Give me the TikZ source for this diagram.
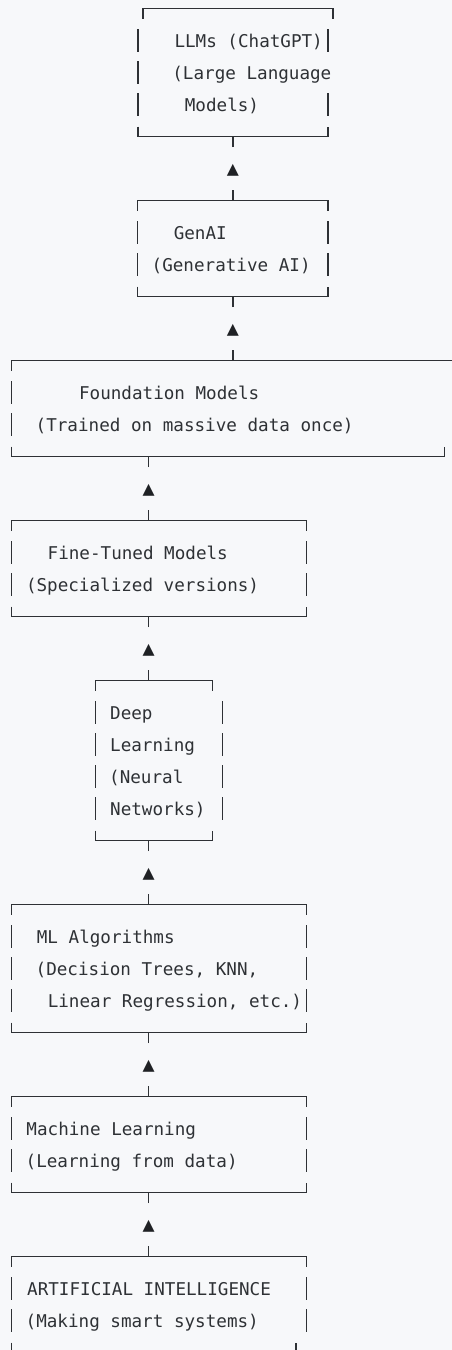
\documentclass[tikz,border=0pt]{standalone}
\usepackage{fontspec}
\setmonofont{DejaVu Sans Mono}
\definecolor{bg}{HTML}{F7F8FA}
\definecolor{ink}{HTML}{2E3135}
\definecolor{tri}{HTML}{1F2124}
\tikzset{
  bline/.style={draw=ink, line width=1.3pt},
  txt/.style={anchor=base west, inner sep=0pt, text=ink, font=\ttfamily\fontsize{17.6}{32}\selectfont},
  boxarea/.style={draw=none, inner sep=0pt, outer sep=0pt, anchor=north west},
  conn/.style={draw=ink, line width=1.3pt, dash pattern=on 10.5pt off 43pt on 10.5pt off 200pt},
  tip/.style={inner sep=0pt, text=tri, font=\ttfamily\fontsize{20}{22}\selectfont},
}
\newcommand\rowy[1]{8.7+32*#1}
\newcommand\topedge[3]{\draw[bline] (#1,\rowy{#3}+10) -- (#1,\rowy{#3}) -- (#2,\rowy{#3}) -- (#2,\rowy{#3}+10);}
\newcommand\botedge[3]{\draw[bline] (#1,\rowy{#3}-10) -- (#1,\rowy{#3}) -- (#2,\rowy{#3}) -- (#2,\rowy{#3}-10);}
\newcommand\sidebar[2]{\draw[bline] (#1,\rowy{#2}-11.5) -- (#1,\rowy{#2}+11.5);}
\newcommand\tline[4]{\node[txt] (#1) at (#2,\rowy{#3}+6.4) {#4};}
\begin{document}
\begin{tikzpicture}[x=1pt,y=-1pt]
\useasboundingbox (0,0) rectangle (452,1350);
\fill[bg] (0,0) rectangle (452,1350);
\clip (0,0) rectangle (452,1350);

% box areas (named)
\node[boxarea, minimum width=190pt,   minimum height=128pt] (llm)   at (138,8.7) {};
\node[boxarea, minimum width=190.3pt, minimum height=96pt]  (genai) at (137.7,200.7) {};
\node[boxarea, minimum width=444pt,   minimum height=96pt]  (found) at (11.3,360.7) {};
\node[boxarea, minimum width=295.4pt, minimum height=96pt]  (fine)  at (11.3,520.7) {};
\node[boxarea, minimum width=116.6pt, minimum height=160pt] (dl)    at (95.7,680.7) {};
\node[boxarea, minimum width=295.4pt, minimum height=128pt] (mla)   at (11.3,904.7) {};
\node[boxarea, minimum width=295.4pt, minimum height=96pt]  (ml)    at (11.3,1096.7) {};
\node[boxarea, minimum width=295.4pt, minimum height=96pt]  (ai)    at (11.3,1256.7) {};

% LLMs box
\topedge{143}{333}{0}
\sidebar{138}{1}\sidebar{138}{2}\sidebar{138}{3}
\sidebar{328}{1}\sidebar{328}{3}
\botedge{138}{328}{4}
\tline{llm1}{174.3}{1}{LLMs (ChatGPT)}
\tline{llm2}{172.2}{2}{(Large Language}
\tline{llm3}{184.7}{3}{Models)}

% GenAI box
\topedge{137.7}{328}{6}
\sidebar{137.7}{7}\sidebar{137.7}{8}
\sidebar{328}{7}\sidebar{328}{8}
\botedge{137.7}{328}{9}
\tline{gen1}{173.6}{7}{GenAI}
\tline{gen2}{151.5}{8}{(Generative AI)}

% Foundation box
\topedge{11.3}{470}{11}
\sidebar{11.3}{12}\sidebar{11.3}{13}
\botedge{11.3}{444.3}{14}
\tline{fo1}{78.9}{12}{Foundation Models}
\tline{fo2}{35.5}{13}{(Trained on massive data once)}

% Fine-tuned box
\topedge{11.3}{306.7}{16}
\sidebar{11.3}{17}\sidebar{11.3}{18}
\sidebar{306.7}{17}\sidebar{306.7}{18}
\botedge{11.3}{306.7}{19}
\tline{fi1}{47.5}{17}{Fine-Tuned Models}
\tline{fi2}{25.8}{18}{(Specialized versions)}

% Deep learning box
\topedge{95.7}{212.3}{21}
\sidebar{95.7}{22}\sidebar{95.7}{23}\sidebar{95.7}{24}\sidebar{95.7}{25}
\sidebar{222.7}{22}\sidebar{222.7}{23}\sidebar{222.7}{24}\sidebar{222.7}{25}
\botedge{95.7}{212.3}{26}
\tline{dl1}{110}{22}{Deep}
\tline{dl2}{110}{23}{Learning}
\tline{dl3}{109}{24}{(Neural}
\tline{dl4}{110}{25}{Networks)}

% ML algorithms box
\topedge{11.3}{306.7}{28}
\sidebar{11.3}{29}\sidebar{11.3}{30}\sidebar{11.3}{31}
\sidebar{306.7}{29}\sidebar{306.7}{30}\sidebar{306.7}{31}
\botedge{11.3}{306.7}{32}
\tline{mla1}{36.7}{29}{ML Algorithms}
\tline{mla2}{35.5}{30}{(Decision Trees, KNN,}
\tline{mla3}{47.6}{31}{Linear Regression, etc.)}

% Machine learning box
\topedge{11.3}{306.7}{34}
\sidebar{11.3}{35}\sidebar{11.3}{36}
\sidebar{306.7}{35}\sidebar{306.7}{36}
\botedge{11.3}{306.7}{37}
\tline{ml1}{26.3}{35}{Machine Learning}
\tline{ml2}{25.5}{36}{(Learning from data)}

% AI box
\topedge{11.3}{306.7}{39}
\sidebar{11.3}{40}\sidebar{11.3}{41}
\sidebar{306.7}{40}\sidebar{306.7}{41}
\botedge{11.3}{296}{42}
\tline{ai1}{27}{40}{ARTIFICIAL INTELLIGENCE}
\tline{ai2}{25.5}{41}{(Making smart systems)}

% connectors
\coordinate (cA) at (233,0);
\coordinate (cB) at (148.7,0);
\draw[conn] (genai.north -| cA) -- (llm.south -| cA)   node[tip, pos=0.47] (t1) {▲};
\draw[conn] (found.north -| cA) -- (genai.south -| cA) node[tip, pos=0.47] (t2) {▲};
\draw[conn] (fine.north -| cB)  -- (found.south -| cB) node[tip, pos=0.47] (t3) {▲};
\draw[conn] (dl.north -| cB)    -- (fine.south -| cB)  node[tip, pos=0.47] (t4) {▲};
\draw[conn] (mla.north -| cB)   -- (dl.south -| cB)    node[tip, pos=0.47] (t5) {▲};
\draw[conn] (ml.north -| cB)    -- (mla.south -| cB)   node[tip, pos=0.47] (t6) {▲};
\draw[conn] (ai.north -| cB)    -- (ml.south -| cB)    node[tip, pos=0.47] (t7) {▲};
\end{tikzpicture}
\end{document}
